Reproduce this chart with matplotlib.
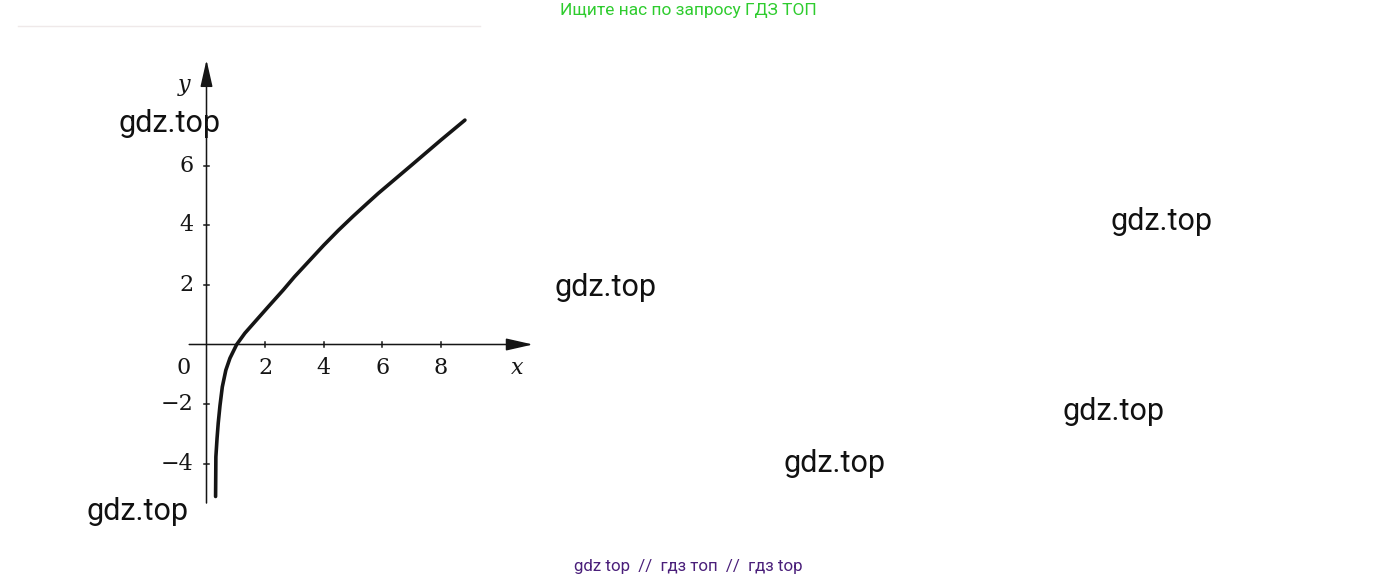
import matplotlib
matplotlib.use("Agg")
import matplotlib.pyplot as plt

# ---- data ----
curve_x = [0.31, 0.313, 0.317, 0.32, 0.36, 0.40, 0.46, 0.54, 0.66, 0.80, 1.03, 1.31,
           1.66, 2.11, 2.62, 3.0, 3.5, 4.0, 4.5, 5.0, 5.5, 5.86, 7.0, 8.0, 8.82]
curve_y = [-5.1, -4.7, -4.2, -3.77, -3.15, -2.64, -2.05, -1.42, -0.86, -0.46, 0.0, 0.38,
           0.77, 1.27, 1.83, 2.27, 2.8, 3.33, 3.83, 4.3, 4.75, 5.07, 6.02, 6.86, 7.53]
x_ticks = [2, 4, 6, 8]
y_ticks = [-4, -2, 2, 4, 6]
x_tick_labels = ["2", "4", "6", "8"]
y_tick_labels = ["\u22124", "\u22122", "2", "4", "6"]

watermarks = [(170, 123), (1162, 222), (606, 287), (1114, 411), (834, 463), (138, 511)]

W, H = 1378, 582
ox, oy = 206.5, 344.5      # origin in pixels (from top-left)
sx, sy = 29.3, 29.8        # pixels per unit

fig = plt.figure(figsize=(W / 100, H / 100), dpi=100)
ax = fig.add_axes([0, 0, 1, 1])
ax.set_xlim(-ox / sx, (W - ox) / sx)
ax.set_ylim(-(H - oy) / sy, oy / sy)
ax.axis("off")

ink = "#151515"
# axes with arrows
arrow = dict(arrowstyle="-|>,head_length=0.75,head_width=0.17", lw=1.1, color=ink,
             mutation_scale=22, shrinkA=0, shrinkB=0)
ax.annotate("", xy=(11.14, 0), xytext=(-0.59, 0), arrowprops=arrow)
ax.annotate("", xy=(0, 9.55), xytext=(0, -5.32), arrowprops=arrow)

# ticks
tl = 0.1
for t in x_ticks:
    ax.plot([t, t], [-tl, tl], color=ink, lw=1.1)
for t in y_ticks:
    ax.plot([-tl, tl], [t, t], color=ink, lw=1.1)

serif = "DejaVu Serif"
fs = 16
for t, lab in zip(x_ticks, x_tick_labels):
    ax.text(t, -0.78, lab, ha="center", va="center", fontsize=fs, family=serif, color=ink)
ax.text(-0.78, -0.78, "0", ha="center", va="center", fontsize=fs, family=serif, color=ink)
for t, lab in zip(y_ticks, y_tick_labels):
    ax.text(-0.45, t, lab, ha="right", va="center", fontsize=fs, family=serif, color=ink)
ax.text(-0.78, 8.7, "y", ha="center", va="center", fontsize=fs, family=serif,
        style="italic", color=ink)
ax.text(10.6, -0.78, "x", ha="center", va="center", fontsize=fs, family=serif,
        style="italic", color=ink)

# curve
ax.plot(curve_x, curve_y, color=ink, lw=2.6, solid_capstyle="round", solid_joinstyle="round")

# faint line at top
fig.add_artist(plt.Line2D([18 / W, 480 / W], [1 - 26 / H, 1 - 26 / H], color="#efe9e9", lw=1.0))

# watermarks
for (px, py) in watermarks:
    fig.text(px / W, 1 - py / H, "gdz.top", ha="center", va="center", fontsize=22,
             family="Roboto", color="#111111")

fig.text(688 / W, 1 - 11 / H, "Ищите нас по запросу ГДЗ ТОП", ha="center", va="center",
         fontsize=12.5, family="Roboto", color="#2ecc2e")
fig.text(688 / W, 1 - 567 / H, "gdz top  //  гдз топ  //  гдз top", ha="center", va="center",
         fontsize=12.2, family="Roboto", color="#4a1f7a")

fig.savefig("out.png", dpi=100)
